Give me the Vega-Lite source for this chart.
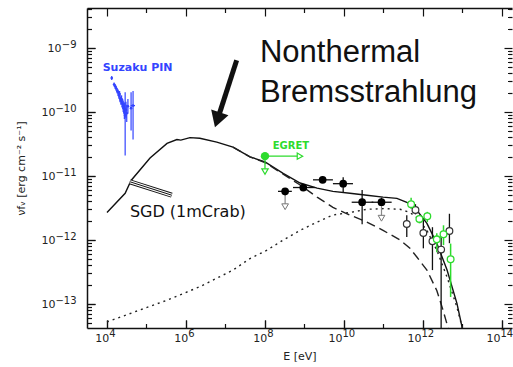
{
 "$schema": "https://vega.github.io/schema/vega-lite/v6.json",
 "width": 425, "height": 320,
 "autosize": "none",
 "padding": {"left": 87, "top": 8, "right": 1, "bottom": 39},
 "background": "white",
 "datasets": {
  "solid": [
   {"E":1e4,"F":2.692e-12},{"E":2.884e4,"F":5.370e-12},{"E":4.074e4,"F":8.511e-12},{"E":1.230e5,"F":1.905e-11},
   {"E":3.311e5,"F":3.236e-11},{"E":5.888e5,"F":3.715e-11},{"E":7.413e5,"F":3.631e-11},{"E":1.259e6,"F":3.981e-11},
   {"E":2.239e6,"F":3.890e-11},{"E":6.026e6,"F":3.388e-11},{"E":1.549e7,"F":2.818e-11},{"E":4.169e7,"F":1.995e-11},
   {"E":1e8,"F":1.660e-11},{"E":2.884e8,"F":1.096e-11},{"E":7.762e8,"F":7.762e-12},{"E":2.089e9,"F":6.457e-12},
   {"E":5.248e9,"F":5.754e-12},{"E":1.413e10,"F":5.370e-12},{"E":3.802e10,"F":5.012e-12},{"E":9.772e10,"F":4.677e-12},
   {"E":2.188e11,"F":4.467e-12},{"E":3.890e11,"F":3.890e-12},{"E":7.079e11,"F":2.884e-12},{"E":1.259e12,"F":1.820e-12},
   {"E":2.239e12,"F":8.913e-13},{"E":4.074e12,"F":3.388e-13},{"E":7.244e12,"F":1.023e-13},{"E":9.772e12,"F":4.365e-14},
   {"E":1.122e13,"F":2.512e-14}
  ],
  "dashed": [
   {"E":1.549e7,"F":2.818e-11},{"E":4.169e7,"F":1.995e-11},{"E":1e8,"F":1.622e-11},{"E":2.884e8,"F":1.072e-11},
   {"E":7.762e8,"F":7.244e-12},{"E":2.089e9,"F":4.677e-12},{"E":5.248e9,"F":3.236e-12},{"E":1.413e10,"F":2.455e-12},
   {"E":3.802e10,"F":1.905e-12},{"E":9.772e10,"F":1.413e-12},{"E":2.630e11,"F":1.0e-12},{"E":4.677e11,"F":7.413e-13},
   {"E":7.079e11,"F":5.370e-13},{"E":1.259e12,"F":3.388e-13},{"E":2.239e12,"F":1.622e-13},{"E":3.236e12,"F":7.943e-14},
   {"E":4.266e12,"F":4.365e-14},{"E":5.012e12,"F":2.512e-14}
  ],
  "dotted": [
   {"E":1e4,"F":5.248e-14},{"E":3.311e5,"F":1.148e-13},{"E":2.239e6,"F":1.862e-13},{"E":1.549e7,"F":3.388e-13},
   {"E":4.169e7,"F":5.129e-13},{"E":1.122e8,"F":6.918e-13},{"E":2.884e8,"F":1.0e-12},{"E":7.762e8,"F":1.413e-12},
   {"E":2.089e9,"F":1.905e-12},{"E":5.248e9,"F":2.455e-12},{"E":1.413e10,"F":2.692e-12},{"E":3.802e10,"F":3.020e-12},
   {"E":9.772e10,"F":3.090e-12},{"E":2.630e11,"F":3.020e-12},{"E":4.677e11,"F":2.692e-12},{"E":7.079e11,"F":2.239e-12},
   {"E":1.259e12,"F":1.413e-12},{"E":2.239e12,"F":6.918e-13},{"E":4.074e12,"F":2.630e-13},{"E":7.244e12,"F":8.913e-14},
   {"E":9.772e12,"F":4.365e-14},{"E":1.202e13,"F":2.512e-14}
  ],
  "sgd": [{"E":3.802e4,"F":8.128e-12},{"E":4.365e5,"F":5.012e-12}],
  "suzaku": [
   {"E":1.318e4,"F":3.388e-10,"Flo":3.15e-10,"Fhi":3.65e-10},
   {"E":1.514e4,"F":2.692e-10,"Flo":2.50e-10,"Fhi":2.90e-10},
   {"E":1.622e4,"F":2.512e-10,"Flo":2.32e-10,"Fhi":2.72e-10},
   {"E":1.698e4,"F":2.344e-10,"Flo":2.15e-10,"Fhi":2.55e-10},
   {"E":1.820e4,"F":2.138e-10,"Flo":1.95e-10,"Fhi":2.35e-10},
   {"E":1.905e4,"F":2.042e-10,"Flo":1.85e-10,"Fhi":2.25e-10},
   {"E":1.995e4,"F":1.820e-10,"Flo":1.62e-10,"Fhi":2.05e-10},
   {"E":2.089e4,"F":1.905e-10,"Flo":1.70e-10,"Fhi":2.12e-10},
   {"E":2.138e4,"F":1.622e-10,"Flo":1.42e-10,"Fhi":1.85e-10},
   {"E":2.239e4,"F":1.514e-10,"Flo":1.30e-10,"Fhi":1.75e-10},
   {"E":2.344e4,"F":1.585e-10,"Flo":1.38e-10,"Fhi":1.82e-10},
   {"E":2.399e4,"F":1.380e-10,"Flo":1.18e-10,"Fhi":1.62e-10},
   {"E":2.512e4,"F":1.318e-10,"Flo":1.10e-10,"Fhi":1.58e-10},
   {"E":2.570e4,"F":1.230e-10,"Flo":1.00e-10,"Fhi":1.50e-10},
   {"E":2.692e4,"F":1.148e-10,"Flo":0.92e-10,"Fhi":1.42e-10},
   {"E":2.754e4,"F":1.000e-10,"Flo":0.78e-10,"Fhi":1.28e-10},
   {"E":2.818e4,"F":1.096e-10,"Flo":0.85e-10,"Fhi":1.40e-10},
   {"E":2.884e4,"F":8.913e-11,"Flo":2.089e-11,"Fhi":2.042e-10},
   {"E":3.020e4,"F":1.072e-10,"Flo":0.80e-10,"Fhi":1.45e-10},
   {"E":3.162e4,"F":9.550e-11,"Flo":0.70e-10,"Fhi":1.30e-10},
   {"E":3.388e4,"F":1.230e-10,"Flo":0.95e-10,"Fhi":1.60e-10},
   {"E":4.074e4,"F":1.148e-10,"Flo":5.129e-11,"Fhi":2.042e-10},
   {"E":4.571e4,"F":1.259e-10,"Flo":3.715e-11,"Fhi":2.138e-10}
  ],
  "suzakuH": [{"E":3.981e4,"E2":5.129e4,"F":1.259e-10}],
  "filled": [
   {"E":3.236e8,"F":5.754e-12,"Elo":2.138e8,"Ehi":4.786e8,"Flo":5.0e-12,"Fhi":6.5e-12},
   {"E":9.333e8,"F":6.607e-12,"Elo":5.117e8,"Ehi":1.845e9,"Flo":5.9e-12,"Fhi":7.4e-12},
   {"E":2.884e9,"F":8.710e-12,"Elo":1.641e9,"Ehi":5.248e9,"Flo":7.8e-12,"Fhi":9.8e-12},
   {"E":9.550e9,"F":7.586e-12,"Elo":5.248e9,"Ehi":1.690e10,"Flo":5.623e-12,"Fhi":9.550e-12},
   {"E":2.884e10,"F":3.890e-12,"Elo":1.567e10,"Ehi":5.521e10,"Flo":1.758e-12,"Fhi":6.026e-12},
   {"E":8.913e10,"F":3.890e-12,"Elo":5.012e10,"Ehi":1.611e11,"Flo":3.890e-12,"Fhi":4.6e-12}
  ],
  "ul": [{"E":3.236e8,"F":5.754e-12,"F2":3.311e-12},{"E":8.913e10,"F":3.890e-12,"F2":2.188e-12}],
  "ulHead": [{"E":3.236e8,"F":3.311e-12},{"E":8.913e10,"F":2.188e-12}],
  "hess": [
   {"E":3.890e11,"F":1.778e-12,"Flo":1.114e-12,"Fhi":2.432e-12},
   {"E":6.457e11,"F":2.951e-12,"Flo":2.512e-12,"Fhi":3.631e-12},
   {"E":1.023e12,"F":1.288e-12,"Flo":7.413e-13,"Fhi":2.042e-12},
   {"E":1.738e12,"F":9.550e-13,"Flo":3.388e-13,"Fhi":1.585e-12},
   {"E":2.884e12,"F":7.079e-13,"Flo":1e-14,"Fhi":1.259e-12},
   {"E":4.677e12,"F":1.380e-12,"Flo":8.913e-13,"Fhi":2.570e-12}
  ],
  "green": [
   {"E":5.012e11,"F":3.631e-12,"Flo":3.090e-12,"Fhi":4.571e-12},
   {"E":8.128e11,"F":2.138e-12,"Flo":1.820e-12,"Fhi":2.455e-12},
   {"E":1.288e12,"F":2.344e-12,"Flo":1.905e-12,"Fhi":2.754e-12},
   {"E":2.239e12,"F":1.023e-12,"Flo":6.457e-13,"Fhi":1.274e-12},
   {"E":3.311e12,"F":1.230e-12,"Flo":8.318e-13,"Fhi":1.698e-12},
   {"E":5.012e12,"F":5.012e-13,"Flo":1.288e-13,"Fhi":8.79e-13}
  ],
  "egret": [{"E":1e8,"F":2.042e-11,"E2":7.69e8,"F2":1.175e-11}],
  "egretHeadR": [{"E":7.69e8,"F":2.042e-11}],
  "egretHeadD": [{"E":1e8,"F":1.175e-11}],
  "arrow": [{"E":1.919e7,"F":6.427e-10},{"E":6.237e6,"F":7.534e-11}],
  "arrowHead": [{"E":6.237e6,"F":7.534e-11}],
  "bigText": [{"E":7.464e7,"F":6.039e-10,"label":"Nonthermal"},{"E":7.464e7,"F":1.432e-10,"label":"Bremsstrahlung"}],
  "suzText": [{"E":7.762e3,"F":4.898e-10,"label":"Suzaku PIN"}],
  "sgdText": [{"E":3.802e4,"F":2.291e-12,"label":"SGD (1mCrab)"}],
  "egretText": [{"E":4.55e8,"F":2.965e-11,"label":"EGRET"}]
 },
 "encoding": {
  "x": {"field":"E","type":"quantitative","scale":{"type":"log","domain":[3119,1.795e14],"nice":false},"axis":null},
  "y": {"field":"F","type":"quantitative","scale":{"type":"log","domain":[4.217e-14,4.217e-9],"nice":false},"axis":null}
 },
 "layer": [
  {"data":{"name":"solid"},"mark":{"type":"line","color":"#111","strokeWidth":1.4,"clip":true},
   "encoding":{
    "x":{"field":"E","type":"quantitative","scale":{"type":"log","domain":[3119,1.795e14],"nice":false},
     "axis":{"orient":"bottom","values":[1e4,1e6,1e8,1e10,1e12,1e14],"tickSize":-8,"labelPadding":12,"labelFlush":false,"labelOverlap":false,
      "labelExpr":"'10'","labelAlign":"right","labelFontSize":11,
      "labelOffset":{"condition":{"test":"datum.value > 1e9","value":-2},"value":1.8},
      "title":"E [eV]","titleY":31,"titleBaseline":"alphabetic","domain":true}},
    "y":{"field":"F","type":"quantitative","scale":{"type":"log","domain":[4.217e-14,4.217e-9],"nice":false},
     "axis":{"orient":"left","values":[1e-13,1e-12,1e-11,1e-10,1e-9],"tickSize":-8,"labelFlush":false,"labelOverlap":false,
      "labelExpr":"'10'","labelFontSize":11,
      "labelPadding":{"condition":{"test":"datum.value > 5e-10","value":34},"value":40},
      "title":"νfᵥ [erg cm⁻² s⁻¹]","titleX":-66,"titleY":160,"titleAngle":-90,"titleAlign":"center","titleBaseline":"middle","domain":true}}}},
  {"data":{"name":"dashed"},"mark":{"type":"line","color":"#222","strokeWidth":1.4,"strokeDash":[9,5],"clip":true},
   "encoding":{
    "x":{"field":"E","type":"quantitative","scale":{"type":"log","domain":[3119,1.795e14],"nice":false},
     "axis":{"orient":"bottom","values":[1e5,1e7,1e9,1e11,1e13],"tickSize":-4.5,"labels":false,"domain":false,"title":null}},
    "y":{"field":"F","type":"quantitative","scale":{"type":"log","domain":[4.217e-14,4.217e-9],"nice":false},
     "axis":{"orient":"left","values":[5e-14,6e-14,7e-14,8e-14,9e-14,2e-13,3e-13,4e-13,5e-13,6e-13,7e-13,8e-13,9e-13,2e-12,3e-12,4e-12,5e-12,6e-12,7e-12,8e-12,9e-12,2e-11,3e-11,4e-11,5e-11,6e-11,7e-11,8e-11,9e-11,2e-10,3e-10,4e-10,5e-10,6e-10,7e-10,8e-10,9e-10,2e-9,3e-9,4e-9],"tickSize":-4.5,"labels":false,"domain":false,"title":null}}}},
  {"data":{"name":"dotted"},"mark":{"type":"line","color":"#222","strokeWidth":1.4,"strokeDash":[2,4],"clip":true},
   "encoding":{
    "x":{"field":"E","type":"quantitative","scale":{"type":"log","domain":[3119,1.795e14],"nice":false},
     "axis":{"orient":"top","values":[1e4,1e6,1e8,1e10,1e12,1e14],"tickSize":-8,"labels":false,"domain":true,"title":null}},
    "y":{"field":"F","type":"quantitative","scale":{"type":"log","domain":[4.217e-14,4.217e-9],"nice":false},
     "axis":{"orient":"right","values":[1e-13,1e-12,1e-11,1e-10,1e-9],"tickSize":-8,"labels":false,"domain":false,"title":null}}}},
  {"data":{"name":"sgd"},"mark":{"type":"line","color":"#111","strokeWidth":5},
   "encoding":{
    "x":{"field":"E","type":"quantitative","scale":{"type":"log","domain":[3119,1.795e14],"nice":false},
     "axis":{"orient":"top","values":[1e5,1e7,1e9,1e11,1e13],"tickSize":-4.5,"labels":false,"domain":false,"title":null}},
    "y":{"field":"F","type":"quantitative","scale":{"type":"log","domain":[4.217e-14,4.217e-9],"nice":false},
     "axis":{"orient":"right","values":[5e-14,6e-14,7e-14,8e-14,9e-14,2e-13,3e-13,4e-13,5e-13,6e-13,7e-13,8e-13,9e-13,2e-12,3e-12,4e-12,5e-12,6e-12,7e-12,8e-12,9e-12,2e-11,3e-11,4e-11,5e-11,6e-11,7e-11,8e-11,9e-11,2e-10,3e-10,4e-10,5e-10,6e-10,7e-10,8e-10,9e-10,2e-9,3e-9,4e-9],"tickSize":-4.5,"labels":false,"domain":false,"title":null}}}},
  {"data":{"name":"sgd"},"mark":{"type":"line","color":"white","strokeWidth":3},
   "encoding":{
    "x":{"field":"E","type":"quantitative","scale":{"type":"log","domain":[3119,1.795e14],"nice":false},
     "axis":{"orient":"bottom","values":[1e4,1e6,1e8,1e10,1e12,1e14],"tickSize":-8,"labelPadding":8,"labelFlush":false,"labelOverlap":false,
      "labelExpr":"'' + round(log(datum.value)/LN10)","labelAlign":"left","labelFontSize":10,
      "labelOffset":{"condition":{"test":"datum.value > 1e9","value":-2},"value":1.8},
      "domain":false,"title":null}},
    "y":{"field":"F","type":"quantitative","scale":{"type":"log","domain":[4.217e-14,4.217e-9],"nice":false},
     "axis":{"orient":"left","values":[1e-13,1e-12,1e-11,1e-10,1e-9],"tickSize":-8,"labelPadding":19,"labelFlush":false,"labelOverlap":false,
      "labelExpr":"'−' + (-round(log(datum.value)/LN10))","labelFontSize":10,"labelOffset":-4,
      "domain":false,"title":null}}}},
  {"data":{"name":"sgd"},"mark":{"type":"line","color":"#111","strokeWidth":1}},
  {"data":{"name":"suzaku"},"mark":{"type":"rule","color":"#3344ff","strokeWidth":1.2},"encoding":{"y2":{"field":"Flo"}}},
  {"data":{"name":"suzaku"},"mark":{"type":"rule","color":"#3344ff","strokeWidth":1.2},"encoding":{"y2":{"field":"Fhi"}}},
  {"data":{"name":"suzakuH"},"mark":{"type":"rule","color":"#3344ff","strokeWidth":1.2},"encoding":{"x2":{"field":"E2"}}},
  {"data":{"name":"suzaku"},"mark":{"type":"point","shape":"circle","filled":true,"color":"#3344ff","size":7,"opacity":1}},
  {"data":{"name":"ul"},"mark":{"type":"rule","color":"#888","strokeWidth":1.2},"encoding":{"y2":{"field":"F2"}}},
  {"data":{"name":"ulHead"},"mark":{"type":"point","shape":"triangle-down","size":45,"filled":true,"fill":"white","stroke":"#777","strokeWidth":1,"opacity":1}},
  {"data":{"name":"filled"},"mark":{"type":"rule","color":"#111","strokeWidth":1.3},"encoding":{"y2":{"field":"Flo"}}},
  {"data":{"name":"filled"},"mark":{"type":"rule","color":"#111","strokeWidth":1.3},"encoding":{"y2":{"field":"Fhi"}}},
  {"data":{"name":"filled"},"mark":{"type":"rule","color":"#111","strokeWidth":1.3},"encoding":{"x2":{"field":"Elo"}}},
  {"data":{"name":"filled"},"mark":{"type":"rule","color":"#111","strokeWidth":1.3},"encoding":{"x2":{"field":"Ehi"}}},
  {"data":{"name":"filled"},"mark":{"type":"point","shape":"circle","filled":true,"color":"#000","size":60,"opacity":1}},
  {"data":{"name":"hess"},"mark":{"type":"rule","color":"#111","strokeWidth":1.3,"clip":true},"encoding":{"y2":{"field":"Flo"}}},
  {"data":{"name":"hess"},"mark":{"type":"rule","color":"#111","strokeWidth":1.3},"encoding":{"y2":{"field":"Fhi"}}},
  {"data":{"name":"green"},"mark":{"type":"rule","color":"#2ddb2d","strokeWidth":1.5},"encoding":{"y2":{"field":"Flo"}}},
  {"data":{"name":"green"},"mark":{"type":"rule","color":"#2ddb2d","strokeWidth":1.5},"encoding":{"y2":{"field":"Fhi"}}},
  {"data":{"name":"hess"},"mark":{"type":"point","shape":"circle","filled":true,"fill":"white","stroke":"#333","strokeWidth":1.2,"size":45,"opacity":1}},
  {"data":{"name":"green"},"mark":{"type":"point","shape":"circle","filled":true,"fill":"white","stroke":"#2ddb2d","strokeWidth":1.3,"size":45,"opacity":1}},
  {"data":{"name":"egret"},"mark":{"type":"rule","color":"#2ddb2d","strokeWidth":1.3},"encoding":{"x2":{"field":"E2"}}},
  {"data":{"name":"egret"},"mark":{"type":"rule","color":"#2ddb2d","strokeWidth":1.3},"encoding":{"y2":{"field":"F2"}}},
  {"data":{"name":"egretHeadR"},"mark":{"type":"point","shape":"triangle-right","size":40,"filled":true,"fill":"white","stroke":"#2ddb2d","strokeWidth":1.2,"opacity":1}},
  {"data":{"name":"egretHeadD"},"mark":{"type":"point","shape":"triangle-down","size":40,"filled":true,"fill":"white","stroke":"#2ddb2d","strokeWidth":1.2,"opacity":1}},
  {"data":{"name":"egret"},"mark":{"type":"point","shape":"circle","filled":true,"color":"#2ddb2d","size":70,"opacity":1}},
  {"data":{"name":"arrow"},"mark":{"type":"line","color":"#111","strokeWidth":5}},
  {"data":{"name":"arrowHead"},"mark":{"type":"point","shape":"triangle-up","angle":198,"size":330,"filled":true,"color":"#111","opacity":1}},
  {"data":{"name":"bigText"},"mark":{"type":"text","font":"Liberation Sans","fontSize":31,"color":"#111","align":"left","baseline":"alphabetic"},"encoding":{"text":{"field":"label"}}},
  {"data":{"name":"suzText"},"mark":{"type":"text","font":"DejaVu Sans","fontSize":11,"fontWeight":"bold","color":"#3344ff","align":"left","baseline":"middle"},"encoding":{"text":{"field":"label"}}},
  {"data":{"name":"sgdText"},"mark":{"type":"text","font":"DejaVu Sans","fontSize":16,"color":"#111","align":"left","baseline":"alphabetic"},"encoding":{"text":{"field":"label"}}},
  {"data":{"name":"egretText"},"mark":{"type":"text","font":"DejaVu Sans","fontSize":10,"fontWeight":"bold","color":"#2ddb2d","align":"center","baseline":"middle"},"encoding":{"text":{"field":"label"}}}
 ],
 "resolve": {"axis": {"x": "independent", "y": "independent"}},
 "config": {
  "view": {"stroke": null},
  "axis": {"grid": false, "domainColor": "#111", "domainWidth": 1.5, "tickColor": "#111", "tickWidth": 1.2,
   "labelFont": "DejaVu Sans", "labelFontSize": 11, "labelColor": "#222",
   "titleFont": "DejaVu Sans", "titleFontSize": 11, "titleFontWeight": "normal", "titleColor": "#222"}
 }
}
